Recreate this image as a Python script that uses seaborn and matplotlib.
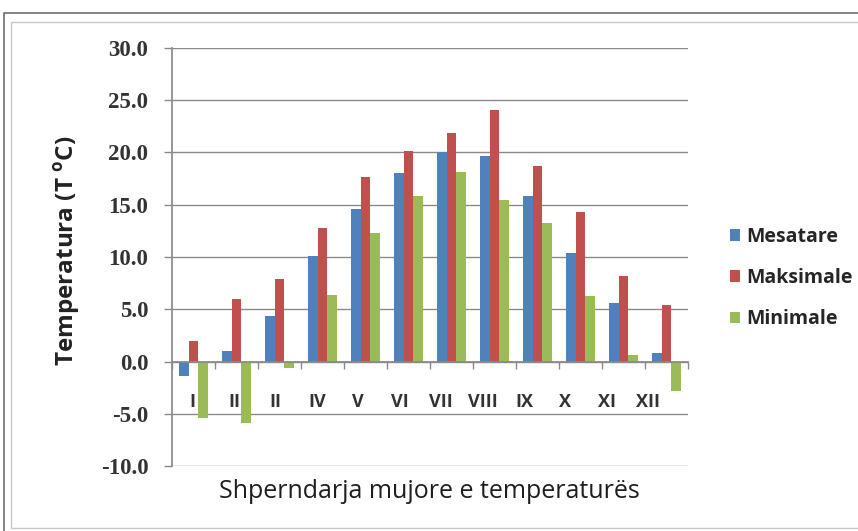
import numpy as np
import pandas as pd
import seaborn as sns
import matplotlib
matplotlib.use("Agg")
import matplotlib.pyplot as plt
from matplotlib.ticker import FormatStrFormatter, FixedLocator
from matplotlib.patches import Rectangle

# Monthly temperature data (°C)
months = ["I", "II", "II", "IV", "V", "VI", "VII", "VIII", "IX", "X", "XI", "XII"]
mesatare = [-1.4, 1.0, 4.4, 10.1, 14.6, 18.0, 20.0, 19.7, 15.8, 10.4, 5.6, 0.8]
maksimale = [2.0, 6.0, 7.9, 12.8, 17.7, 20.1, 21.9, 24.1, 18.7, 14.3, 8.2, 5.4]
minimale = [-5.4, -5.9, -0.6, 6.4, 12.3, 15.8, 18.1, 15.5, 13.3, 6.3, 0.6, -2.8]
series_names = ["Mesatare", "Maksimale", "Minimale"]
colors = ["#4F81BD", "#C0504D", "#9BBB59"]

df = pd.DataFrame({
    "pos": list(range(len(months))) * 3,
    "vlera": mesatare + maksimale + minimale,
    "seria": np.repeat(series_names, len(months)),
})

sns.set_theme(style="white")
plt.rcParams["font.family"] = ["Open Sans", "DejaVu Sans"]
plt.rcParams["axes.unicode_minus"] = False

fig = plt.figure(figsize=(8.58, 5.31), dpi=100)
fig.patch.set_facecolor("white")

# chart frame
fig.patches.append(Rectangle((4 / 858, -0.1), 1.2, 1 - 13 / 531 + 0.1,
                             transform=fig.transFigure, fill=False,
                             edgecolor="#6e6e6e", linewidth=1.2, zorder=0))
fig.patches.append(Rectangle((11 / 858, 1 - 528 / 531), 1.2, (528 - 22) / 531,
                             transform=fig.transFigure, fill=False,
                             edgecolor="#c8c8c8", linewidth=1.0, zorder=0))

ax = fig.add_axes([172 / 858, 1 - 466 / 531, (688 - 172) / 858, (466 - 48) / 531])
ax.set_facecolor("none")

sns.barplot(data=df, x="pos", y="vlera", hue="seria", hue_order=series_names,
            palette=colors, width=0.66, saturation=1, ax=ax,
            order=list(range(len(months))),
            edgecolor="none", linewidth=0, legend=True)

ax.set_ylim(-10, 30)
ax.set_xlim(-0.5, len(months) - 0.5)
ax.set_yticks(np.arange(-10, 30.1, 5))
ax.yaxis.set_major_formatter(FormatStrFormatter("%.1f"))
ax.grid(axis="y", color="#8a8a8a", linewidth=1.0)
ax.set_axisbelow(True)

for side in ["top", "right"]:
    ax.spines[side].set_visible(False)
ax.spines["left"].set_color("#8a8a8a")
ax.spines["bottom"].set_color("#8a8a8a")
ax.spines["bottom"].set_position(("data", 0))

ax.tick_params(axis="y", which="major", direction="out", length=6, width=1,
               color="#8a8a8a", pad=11, left=True)
for lbl in ax.get_yticklabels():
    lbl.set_fontfamily(["Liberation Serif", "DejaVu Serif"])
    lbl.set_fontweight("bold")
    lbl.set_fontsize(16.5)
    lbl.set_color("#333333")

# month labels sit slightly compressed toward the left, as in the spreadsheet render
label_pos = -0.5 + (np.arange(len(months)) + 0.5) * 0.963
ax.set_xticks(label_pos)
ax.set_xticklabels(months, fontsize=13, fontweight="bold", color="#333333")
ax.tick_params(axis="x", which="major", length=0, pad=23)
ax.xaxis.set_minor_locator(FixedLocator(np.arange(-0.5, len(months), 1.0)))
ax.tick_params(axis="x", which="minor", direction="out", length=5, width=1,
               color="#8a8a8a", bottom=True)

ax.set_xlabel("")
ax.set_ylabel("Temperatura (T $^{\\mathregular{o}}$C)", fontsize=17.5,
              fontweight="bold", color="#222222")
ax.yaxis.set_label_coords(-0.172, 0.515)
fig.text(429 / 858, 1 - 492 / 531, "Shperndarja mujore e temperaturës",
         ha="center", va="center", fontsize=18, color="#1e1e1e")

handles, labels = ax.get_legend_handles_labels()
ax.get_legend().remove()
fig.legend(handles, labels, loc="center left",
           bbox_to_anchor=(712 / 858, 1 - 278 / 531), frameon=False,
           labelspacing=1.1, handlelength=0.55, handleheight=0.55,
           handletextpad=0.3, prop={"weight": "bold", "size": 14})

fig.savefig("out.png", dpi=100, facecolor="white")
